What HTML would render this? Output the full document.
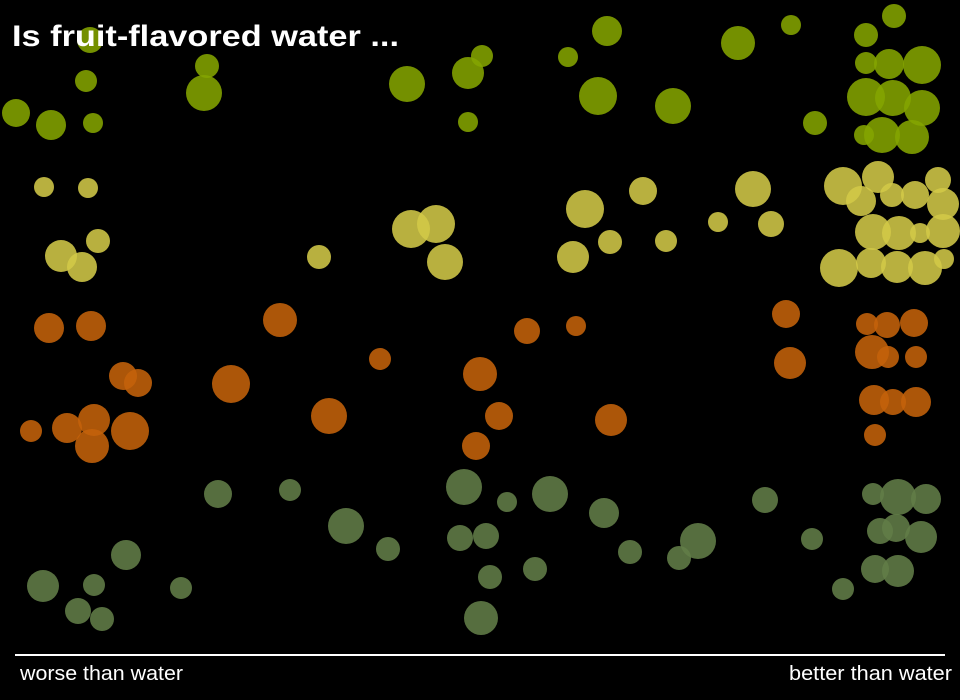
<!DOCTYPE html>
<html><head><meta charset="utf-8"><style>
html,body{margin:0;padding:0;background:#000;}
svg{display:block;font-family:"Liberation Sans",sans-serif;}
</style></head><body>
<svg id="chart" width="960" height="700">
<rect width="960" height="700" fill="#000"/>
<g id="marks"></g>
<text x="12" y="46" fill="#fff" font-size="30" font-weight="bold" textLength="387" lengthAdjust="spacingAndGlyphs">Is fruit-flavored water ...</text>
<line x1="15" y1="655" x2="945" y2="655" stroke="#fff" stroke-width="2"/>
<text x="20" y="680" fill="#fff" font-size="20" textLength="163" lengthAdjust="spacingAndGlyphs">worse than water</text>
<text x="789" y="680" fill="#fff" font-size="20" textLength="163" lengthAdjust="spacingAndGlyphs">better than water</text>
</svg>
<script>
const groups = ["g1","g2","g3","g4"];
const groupColors = {g1:"#84a400",g2:"#d2c848",g3:"#c4620a",g4:"#627d48"};
const g1X=[90,86,16,51,93,207,204,407,468,482,468,607,568,598,673,738,791,815,894,866,866,889,922,866,893,922,864,882,912];
const g1Y=[40,81,113,125,123,66,93,84,73,56,122,31,57,96,106,43,25,123,16,35,63,64,65,97,98,108,135,135,137];
const g1R=[13,11,14,15,10,12,18,18,16,11,10,15,10,19,18,17,10,12,12,12,11,15,19,19,18,18,10,18,17];
const g2X=[44,88,61,82,98,319,411,436,445,585,573,610,643,666,718,753,771,843,861,878,892,915,938,943,873,899,920,943,839,871,897,925,944];
const g2Y=[187,188,256,267,241,257,229,224,262,209,257,242,191,241,222,189,224,186,201,177,195,195,180,204,232,233,233,231,268,263,267,268,259];
const g2R=[10,10,16,15,12,12,19,19,18,19,16,12,14,11,10,18,13,19,15,16,12,14,13,16,18,17,10,17,19,15,16,17,10];
const g3X=[49,91,280,380,527,576,786,790,123,138,231,480,31,67,94,92,130,329,499,476,611,867,887,914,872,888,916,874,893,916,875];
const g3Y=[328,326,320,359,331,326,314,363,376,383,384,374,431,428,420,446,431,416,416,446,420,324,325,323,352,357,357,400,402,402,435];
const g3R=[15,15,17,11,13,10,14,16,14,14,19,17,11,15,16,17,19,18,14,14,16,11,13,14,17,11,11,15,13,15,11];
const g4X=[218,290,464,507,550,346,388,460,486,604,126,43,94,78,102,181,490,535,481,630,698,679,765,812,843,873,898,926,880,896,921,875,898];
const g4Y=[494,490,487,502,494,526,549,538,536,513,555,586,585,611,619,588,577,569,618,552,541,558,500,539,589,494,497,499,531,528,537,569,571];
const g4R=[14,11,18,10,18,18,12,13,13,15,15,16,11,13,12,11,12,12,17,12,18,12,13,11,11,11,18,15,13,14,16,14,16];
const seriesX={g1:g1X,g2:g2X,g3:g3X,g4:g4X};
const seriesY={g1:g1Y,g2:g2Y,g3:g3Y,g4:g4Y};
const seriesR={g1:g1R,g2:g2R,g3:g3R,g4:g4R};
function xScale(v){return v*(960/960);}
function yScale(v){return v*(700/700);}
const NS="http://www.w3.org/2000/svg";
const gm=document.getElementById("marks");
groups.forEach(function(g){
  const xs=seriesX[g],ys=seriesY[g],rs=seriesR[g];
  for(let i=0;i<xs.length;i++){
    const c=document.createElementNS(NS,"circle");
    c.setAttribute("cx",xScale(xs[i]));
    c.setAttribute("cy",yScale(ys[i]));
    c.setAttribute("r",rs[i]);
    c.setAttribute("fill",groupColors[g]);
    c.setAttribute("fill-opacity","0.88");
    
    
    gm.appendChild(c);
  }
});
</script>
</body></html>
